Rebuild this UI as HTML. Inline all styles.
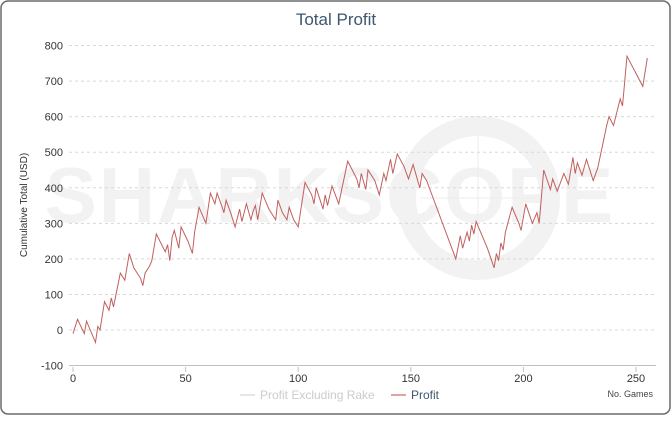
<!DOCTYPE html>
<html><head><meta charset="utf-8"><style>
html,body{margin:0;padding:0;background:#fff;}
#wrap{position:relative;width:672px;height:416px;}
svg text{font-family:"Liberation Sans",sans-serif;}
</style></head><body>
<div id="wrap">
<svg id="chart" width="672" height="416" xmlns="http://www.w3.org/2000/svg">
<rect x="1" y="1" width="669" height="413" rx="7" fill="#fff" stroke="#6b6b6b" stroke-width="1.5"/>
<text x="336" y="25" text-anchor="middle" font-size="17" fill="#3e576f">Total Profit</text>
<g fill="#f2f2f2">
<text x="330" y="222" text-anchor="middle" font-size="78" font-weight="bold" letter-spacing="2">SHARKSCOPE</text>
<circle cx="478" cy="198" r="72" fill="none" stroke="#f2f2f2" stroke-width="20"/>
<line x1="478" y1="135" x2="478" y2="260" stroke="#ececec" stroke-width="1"/>
<line x1="420" y1="198" x2="536" y2="198" stroke="#ececec" stroke-width="1"/>
</g>
<g id="grid"></g>
<g id="yticks"></g>
<g id="xticks"></g>
<text transform="translate(27,205) rotate(-90)" text-anchor="middle" font-size="10" fill="#333">Cumulative Total (USD)</text>
<text x="653" y="397" text-anchor="end" font-size="9" fill="#444">No. Games</text>
<g><line x1="240" y1="395" x2="255" y2="395" stroke="#ccc"/><text x="260" y="399" font-size="12" fill="#ccc">Profit Excluding Rake</text></g>
<g><line x1="391" y1="395" x2="406" y2="395" stroke="#b94a48"/><text x="411" y="399" font-size="12" fill="#3e576f">Profit</text></g>
<path id="line" fill="none" stroke="#c0605e" stroke-width="1"/>
</svg>
</div>
<script>
const games=[0,2,5,6,10,11,12,14,16,17,18,21,23,25,27,30,31,32,34,35,37,41,42,43,44,45,47,48,51,53,54,56,59,61,63,64,66,67,68,70,72,74,75,77,79,80,81,82,84,87,90,91,93,95,96,98,100,103,106,107,108,111,112,113,115,118,122,126,127,128,130,131,134,136,138,139,141,142,144,147,149,151,154,155,157,170,172,173,175,176,177,178,179,184,187,188,189,190,191,192,195,198,199,201,204,206,207,209,212,213,215,218,220,222,223,224,226,228,231,233,237,238,240,243,244,246,253,255];
const profit=[-10,30,-10,25,-35,10,0,80,55,90,65,160,140,215,175,145,125,160,180,195,270,220,240,195,260,280,230,290,250,215,275,345,300,385,355,385,350,330,365,330,290,340,305,355,310,335,350,310,385,340,310,365,330,310,345,310,290,415,380,355,400,340,380,350,405,355,475,425,400,440,395,450,420,380,440,420,480,440,495,460,425,465,400,440,420,200,265,230,275,250,295,270,305,230,175,215,195,245,225,275,345,300,280,355,300,330,300,450,395,425,390,440,410,485,440,470,435,480,420,455,575,600,575,650,630,770,685,765];
const yTicks=[-100,0,100,200,300,400,500,600,700,800];
const xTicks=[0,50,100,150,200,250];
const xs=g=>73+g*(563/250);
const ys=v=>330-v*0.3556;
const NS="http://www.w3.org/2000/svg";
const grid=document.getElementById('grid'),yt=document.getElementById('yticks'),xt=document.getElementById('xticks');
yTicks.forEach(v=>{
 const l=document.createElementNS(NS,'line');
 l.setAttribute('x1',69);l.setAttribute('x2',656);l.setAttribute('y1',ys(v));l.setAttribute('y2',ys(v));
 l.setAttribute('stroke',v===-100?'#c0c0c0':'#d8d8d8');
 if(v!==-100)l.setAttribute('stroke-dasharray','3,3');
 
 
 grid.appendChild(l);
 const t=document.createElementNS(NS,'text');
 t.setAttribute('x',63);t.setAttribute('y',ys(v)+4);t.setAttribute('text-anchor','end');t.setAttribute('font-size','11');t.setAttribute('fill','#333');
 t.textContent=v;
 
 
 yt.appendChild(t);
});
xTicks.forEach(g=>{
 const l=document.createElementNS(NS,'line');
 l.setAttribute('x1',xs(g));l.setAttribute('x2',xs(g));l.setAttribute('y1',367);l.setAttribute('y2',372);l.setAttribute('stroke','#c0c0c0');
 
 
 xt.appendChild(l);
 const t=document.createElementNS(NS,'text');
 t.setAttribute('x',xs(g));t.setAttribute('y',382);t.setAttribute('text-anchor','middle');t.setAttribute('font-size','11');t.setAttribute('fill','#333');
 t.textContent=g;
 
 
 xt.appendChild(t);
});
document.getElementById('line').setAttribute('d',games.map((g,i)=>(i?'L':'M')+xs(g).toFixed(1)+','+ys(profit[i]).toFixed(1)).join(''));
</script>
</body></html>
